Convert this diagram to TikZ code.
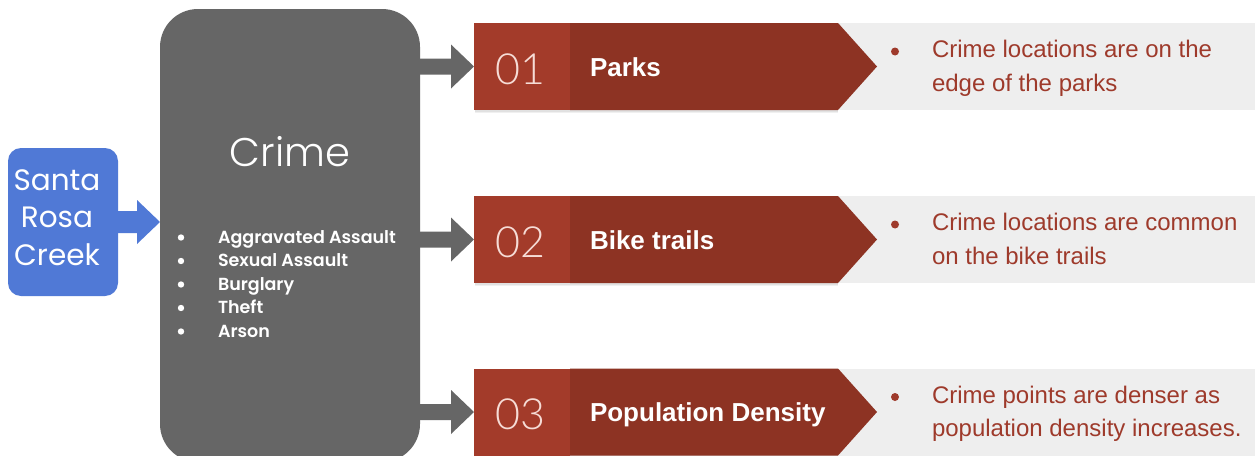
\documentclass[tikz,border=0pt]{standalone}
\usepackage{fontspec}
\setmainfont{Liberation Sans}
\newfontfamily\thinfont{Lato Light}
\newfontfamily\headfont{Poppins Light}
\newfontfamily\creekfont{Poppins}
\newfontfamily\listfont{Poppins SemiBold}
\usetikzlibrary{calc}

\definecolor{creekblue}{HTML}{5079D6}
\definecolor{boxgrey}{HTML}{666666}
\definecolor{numred}{HTML}{A33B2A}
\definecolor{bandred}{HTML}{8D3323}
\definecolor{notered}{HTML}{9E3A2B}
\definecolor{panelgrey}{HTML}{EEEEEE}
\definecolor{numtext}{HTML}{F6DCD6}

% block arrow: start x from #1, tip at #2, shaft half height #3,
% head half height #4, head length #5, colour #6
\newcommand\blockarrow[6]{%
  \fill[#6] ($(#1 |- #2)+(0,-#3)$) -- ($(#2)+(-#5,-#3)$) -- ($(#2)+(-#5,-#4)$)
    -- (#2) -- ($(#2)+(-#5,#4)$) -- ($(#2)+(-#5,#3)$) -- ($(#1 |- #2)+(0,#3)$) -- cycle;}

\begin{document}
\begin{tikzpicture}[x=1pt,y=-1pt,
  every node/.style={inner sep=0pt,outer sep=0pt},
  creekbox/.style={fill=creekblue,rounded corners=13pt,minimum width=110pt,minimum height=148pt},
  crimebox/.style={fill=boxgrey,rounded corners=38pt,minimum width=260pt,minimum height=453pt},
  creektext/.style={anchor=base,text=white,font=\creekfont\fontsize{29.5}{36}\selectfont},
  crimetitle/.style={anchor=base,text=white,font=\headfont\fontsize{40}{48}\selectfont},
  crimeitem/.style={anchor=base west,text=white,font=\listfont\fontsize{17.5}{21}\selectfont},
  numbox/.style={fill=numred,minimum width=96pt,minimum height=87pt},
  numtextstyle/.style={anchor=base,text=numtext,font=\thinfont\fontsize{43}{43}\selectfont},
  bandtext/.style={anchor=base west,text=white,font=\bfseries\fontsize{26}{30}\selectfont},
  notetext/.style={anchor=base west,text=notered,font=\fontsize{24}{28}\selectfont},
]
\useasboundingbox (0,0) rectangle (1255,455);
\clip (0,0) rectangle (1255,455);
\fill[white] (0,0) rectangle (1255,455);

% source and main boxes
\node[creekbox] (creek) at (63,222) {};
\node[crimebox] (crime) at (290,235.5) {};

\node[creektext] (creek1) at (57,190) {Santa};
\node[creektext] (creek2) at (57,227.5) {Rosa};
\node[creektext] (creek3) at (57,265) {Creek};

\node[crimetitle] (crimehead) at (290,166) {Crime};

\foreach \k/\item in {0/Aggravated Assault,1/Sexual Assault,2/Burglary,3/Theft,4/Arson}{
  \fill[white] (181,{237.5+23.5*\k}) circle (3.2);
  \node[crimeitem] (item\k) at (218,{243+23.5*\k}) {\item};
}

% arrow from the creek into the crime box
\coordinate (creektip) at (crime.west |- creek.east);
\blockarrow{creek.east}{creektip}{11}{22}{23}{creekblue}

% the three result banners
\foreach \i/\cy/\num/\lab/\la/\lb in {
  1/66.5/01/Parks/{Crime locations are on the}/{edge of the parks},
  2/239.5/02/Bike trails/{Crime locations are common}/{on the bike trails},
  3/412/03/Population Density/{Crime points are denser as}/{population density increases.}}{
  % light panel behind the notes
  \fill[panelgrey] (838,{\cy-43.5}) rectangle (1260,{\cy+43.5});
  % soft shadow under the band
  \fill[black,opacity=0.06] (475,{\cy-42}) rectangle (838,{\cy+46.5});
  \fill[black,opacity=0.06] (475,{\cy-42}) rectangle (838,{\cy+45});
  \node[numbox] (n\i) at (522,\cy) {};
  \node[numtextstyle] (num\i) at (520,{\cy+17.5}) {\num};
  \fill[bandred] (n\i.north east) -- ++(268,0) -- ($(n\i.east)+(307,0)$)
     -- ($(n\i.south east)+(268,0)$) -- (n\i.south east) -- cycle;
  \node[bandtext] (lab\i) at (590,{\cy+9.5}) {\lab};
  \fill[notered] (895,{\cy-15}) circle (4);
  \node[notetext] (notea\i) at (932,{\cy-9}) {\la};
  \node[notetext] (noteb\i) at (932,{\cy+24.5}) {\lb};
  \blockarrow{crime.east}{n\i.west}{8}{22}{23}{boxgrey}
}
\end{tikzpicture}
\end{document}
